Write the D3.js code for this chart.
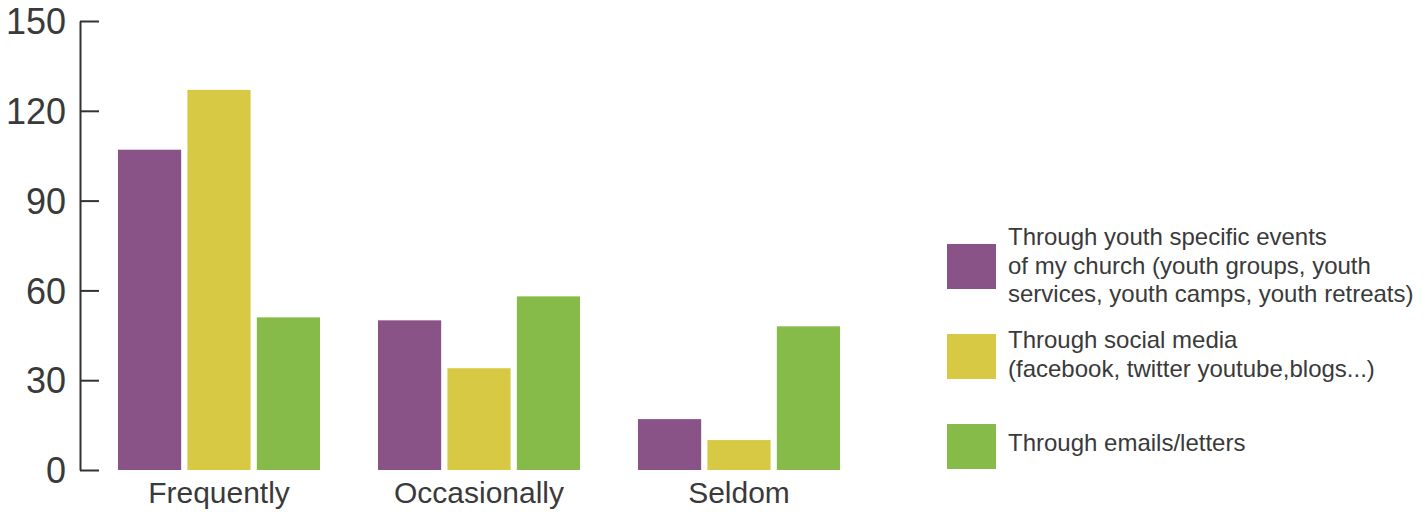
<!DOCTYPE html>
<html>
<head>
<meta charset="utf-8">
<script src="https://cdn.jsdelivr.net/npm/d3@7"></script>
<style>
  html, body { margin: 0; padding: 0; background: #fff; }
  svg { display: block; font-family: "Open Sans", "Liberation Sans", sans-serif; font-weight: 300; }
</style>
</head>
<body>
<svg id="chart" width="1426" height="512"></svg>
<script>
// Frequency categories along the x axis
const categories = ["Frequently", "Occasionally", "Seldom"];

// Series (one bar per category each)
const seriesNames = [
  "Through youth specific events of my church (youth groups, youth services, youth camps, youth retreats)",
  "Through social media (facebook, twitter youtube,blogs...)",
  "Through emails/letters"
];
const youthEvents = [107, 50, 17];
const socialMedia = [127, 34, 10];
const emailsLetters = [51, 58, 48];

// Y axis ticks
const yTicks = [0, 30, 60, 90, 120, 150];

// Legend labels, wrapped as they are drawn
const legendLines = [
  ["Through youth specific events", "of my church (youth groups, youth", "services, youth camps, youth retreats)"],
  ["Through social media", "(facebook, twitter youtube,blogs...)"],
  ["Through emails/letters"]
];

const colors = ["#8a5388", "#d7c944", "#87bb49"];
const seriesValues = [youthEvents, socialMedia, emailsLetters];

const svg = d3.select("#chart");

const y = d3.scaleLinear().domain([0, 150]).range([470, 21]);

const x0 = d3.scaleBand()
  .domain(categories)
  .range([89, 869])
  .paddingInner(0.223)
  .paddingOuter(0.1115);

const x1 = d3.scaleBand()
  .domain(d3.range(seriesNames.length))
  .range([0, x0.bandwidth()])
  .paddingInner(0.09);

// Bars
const groups = svg.append("g")
  .selectAll("g")
  .data(categories)
  .join("g")
  .attr("transform", d => `translate(${x0(d)},0)`);

groups.selectAll("rect")
  .data((c, ci) => seriesValues.map((vals, si) => ({ si, v: vals[ci] })))
  .join("rect")
  .attr("x", d => x1(d.si))
  .attr("width", x1.bandwidth())
  .attr("y", d => y(d.v))
  .attr("height", d => y(0) - y(d.v))
  .attr("fill", d => colors[d.si]);

// Y axis with ticks pointing into the plot
const yAxis = d3.axisLeft(y)
  .tickValues(yTicks)
  .tickSizeInner(-19)
  .tickSizeOuter(0)
  .tickPadding(14);

const yg = svg.append("g")
  .attr("transform", "translate(80,0)")
  .call(yAxis);
yg.select(".domain").attr("stroke", "#333").attr("stroke-width", 2);
yg.selectAll(".tick line").attr("stroke", "#333").attr("stroke-width", 2);
yg.selectAll(".tick text")
  .attr("fill", "#3a3a3a")
  .attr("font-size", 36)
  .attr("font-family", null)
  .attr("dy", "0.35em");

// Category labels
const xAxis = d3.axisBottom(x0).tickSize(0).tickPadding(0);
const xg = svg.append("g")
  .attr("transform", "translate(0,470)")
  .call(xAxis);
xg.select(".domain").remove();
xg.selectAll(".tick text")
  .attr("fill", "#3a3a3a")
  .attr("font-size", 30)
  .attr("font-family", null)
  .attr("dy", null)
  .attr("y", 33);

// Legend
const legendY = [244, 334, 424];
const firstBaseline = [245, 348, 451];
const legend = svg.append("g");
seriesNames.forEach((name, i) => {
  legend.append("rect")
    .attr("x", 947)
    .attr("y", legendY[i])
    .attr("width", 49)
    .attr("height", 45)
    .attr("fill", colors[i]);
  legendLines[i].forEach((line, j) => {
    legend.append("text")
      .attr("x", 1008)
      .attr("y", firstBaseline[i] + j * 28.5)
      .attr("fill", "#3a3a3a")
      .attr("font-family", "'Liberation Sans', Arial, sans-serif")
      .attr("font-size", 24)
      .text(line);
  });
});
</script>
</body>
</html>
